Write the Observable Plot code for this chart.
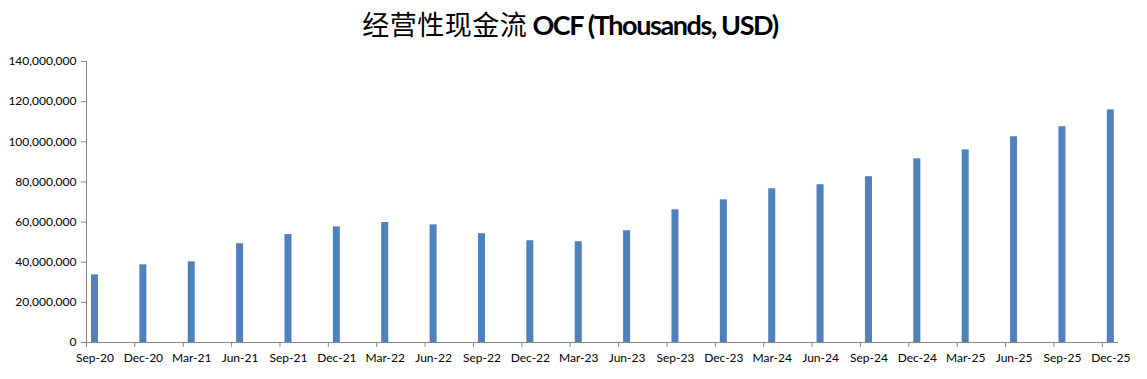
<!DOCTYPE html>
<html>
<head>
<meta charset="utf-8">
<script src="https://cdn.jsdelivr.net/npm/d3@7"></script>
<script src="https://cdn.jsdelivr.net/npm/@observablehq/plot@0.6"></script>
<style>
  html, body { margin: 0; padding: 0; background: #fff; }
  #title {
    width: 1147px; height: 50px; box-sizing: border-box;
    text-align: center; font-size: 27px; line-height: 27px; padding-top: 10px; padding-right: 7px;
    color: #000; white-space: nowrap;
  }
  #title .cjk { font-family: "Noto Sans CJK SC", sans-serif; font-weight: 400; letter-spacing: 0.5px; }
  #title .lat { font-family: Lato, "Open Sans", sans-serif; font-weight: 700; letter-spacing: -1.4px; }
</style>
</head>
<body>
<div id="title"><span class="cjk">经营性现金流</span><span class="lat"> OCF (Thousands, USD)</span></div>
<div id="chart"></div>
<script>
const periods = ["Sep-20","Dec-20","Mar-21","Jun-21","Sep-21","Dec-21","Mar-22","Jun-22","Sep-22","Dec-22","Mar-23","Jun-23","Sep-23","Dec-23","Mar-24","Jun-24","Sep-24","Dec-24","Mar-25","Jun-25","Sep-25","Dec-25"];
const ocf = [33.7e6, 38.7e6, 40.2e6, 49.2e6, 53.8e6, 57.6e6, 59.8e6, 58.6e6, 54.2e6, 50.7e6, 50.2e6, 55.7e6, 66.1e6, 71.1e6, 76.6e6, 78.6e6, 82.6e6, 91.5e6, 96.0e6, 102.5e6, 107.5e6, 115.9e6];
const yTicks = [0, 20e6, 40e6, 60e6, 80e6, 100e6, 120e6, 140e6];

const data = periods.map((p, i) => ({period: p, value: ocf[i]}));
const axisColor = "#868686";

const chart = Plot.plot({
  width: 1147,
  height: 329,
  marginTop: 11,
  marginBottom: 37,
  marginLeft: 86,
  marginRight: 29,
  style: {fontFamily: "Lato, 'Open Sans', sans-serif", fontSize: "12px", color: "#000", background: "#fff"},
  x: {type: "band", domain: periods, range: [70.3, 1134.5], paddingInner: 0.855, paddingOuter: 0.4275, align: 0.5, round: false},
  y: {domain: [0, 140e6]},
  marks: [
    Plot.barY(data, {x: "period", y: "value", fill: "#4F81BD"}),
    Plot.ruleY([0], {stroke: axisColor}),
    Plot.frame({anchor: "left", stroke: axisColor}),
    Plot.axisY({ticks: yTicks, tickSize: 5, tickPadding: 5, stroke: axisColor, fill: "#000", tickFormat: d3.format(","), label: null}),
    Plot.axisX({tickSize: 0, tickPadding: 11, fill: "#000", label: null}),
    Plot.axisX({tickSize: 5, tickFormat: () => "", dx: -8.5, stroke: axisColor, label: null})
  ]
});
document.getElementById("chart").appendChild(chart);
</script>
</body>
</html>
